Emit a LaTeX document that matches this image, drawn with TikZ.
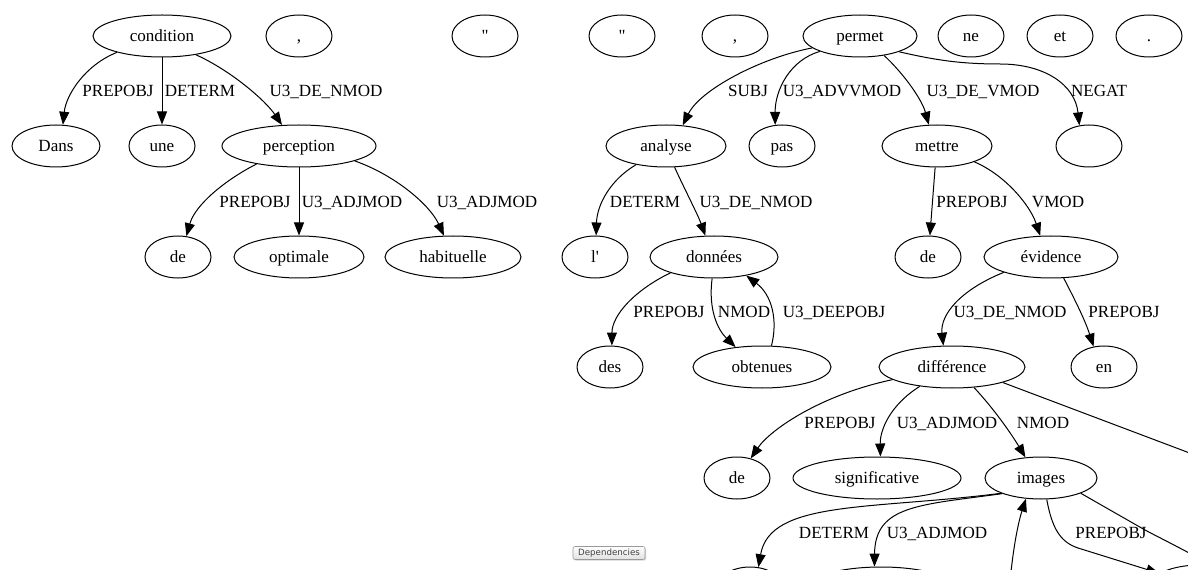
\documentclass[tikz,border=0pt]{standalone}
\usepackage{fontspec}
\setmainfont{Liberation Serif}
\newfontfamily\btnfont{DejaVu Sans}
\usetikzlibrary{arrows.meta,shapes.geometric,shadows}
\begin{document}
\begin{tikzpicture}[x=0.75pt,y=-0.75pt,
  el/.style={ellipse,draw,line width=0.75pt,inner sep=0pt,minimum height=31.5pt,minimum width=#1*0.75pt,font=\fontsize{12.8pt}{15pt}\selectfont,text height=10pt,text depth=1.8pt},
  lbl/.style={inner sep=0pt,font=\fontsize{12.8pt}{15pt}\selectfont,text height=10pt,text depth=1.8pt},
  dep/.style={draw,line width=0.75pt,-{Triangle[length=9.75pt,width=7.5pt]}},
  depline/.style={draw,line width=0.75pt},
  btn/.style={draw=black!40,rounded corners=1.5pt,top color=white,bottom color=black!12,inner sep=0pt,minimum width=54pt,minimum height=9.75pt,font=\btnfont\fontsize{6.5pt}{8pt}\selectfont,text=black!75,drop shadow={shadow xshift=0.8pt,shadow yshift=-0.8pt,opacity=0.35}}]
\useasboundingbox (0,0) rectangle (1188,570);
\fill[white] (0,0) rectangle (1188,570);
\begin{scope}
\clip (0,0) rectangle (1188,570);
% row 1
\node[el=138] (cond) at (162,36) {condition};
\node[el=66] (c1) at (299,36) {,};
\node[el=66] (q1) at (485,36) {\textquotedbl};
\node[el=66] (q2) at (622,36) {\textquotedbl};
\node[el=66] (c2) at (735,36) {,};
\node[el=114] (perm) at (860,36) {permet};
\node[el=66] (ne) at (971,36) {ne};
\node[el=66] (et) at (1060,36) {et};
\node[el=66] (dot) at (1149,36) {.};
% row 2
\node[el=88] (dans) at (56,146) {Dans};
\node[el=66] (une) at (162,146) {une};
\node[el=154] (perc) at (299,146) {perception};
\node[el=120] (anal) at (666,146) {analyse};
\node[el=66] (pas) at (782,146) {pas};
\node[el=110] (mett) at (937,146) {mettre};
\node[el=66] (empty) at (1089,146) {};
% row 3
\node[el=66] (de1) at (178,257) {de};
\node[el=130] (opt) at (299,257) {optimale};
\node[el=136] (hab) at (453,257) {habituelle};
\node[el=66] (l) at (595,257) {l\textquotesingle};
\node[el=128] (don) at (714,257) {données};
\node[el=66] (de2) at (928,257) {de};
\node[el=134] (evid) at (1051,257) {évidence};
% row 4
\node[el=66] (des) at (610,367) {des};
\node[el=138] (obt) at (762,367) {obtenues};
\node[el=146] (diff) at (952,367) {différence};
\node[el=66] (en) at (1104,367) {en};
% row 5
\node[el=66] (de3) at (737,478) {de};
\node[el=168] (sig) at (877,478) {significative};
\node[el=112] (img) at (1041,478) {images};
% row 6 (cut off)
\node[el=66] (nA) at (750,588) {};
\node[el=148] (nB) at (881,588) {};
\node[el=100] (nD) at (1200,586) {};
\coordinate (cC) at (1009,592);
\coordinate (cE) at (1230,575);
\coordinate (cF) at (1240,472);
% edges
\draw[dep] (cond.200) .. controls (85,65) and (66,95) .. (dans.72);
\draw[dep] (cond.south) -- (une.north);
\draw[dep] (cond.331) .. controls (230,70) and (265,100) .. (perc.129);
\draw[dep] (perc.203) .. controls (225,180) and (195,205) .. (de1.68);
\draw[dep] (perc.south) -- (opt.north);
\draw[dep] (perc.345) .. controls (395,175) and (430,205) .. (hab.113);
\draw[dep] (perm.194) .. controls (760,58) and (700,90) .. (anal.51);
\draw[dep] (perm.201) .. controls (790,60) and (775,90) .. (pas.108);
\draw[dep] (perm.321) .. controls (905,75) and (922,100) .. (mett.111);
\draw[dep] (perm.338) .. controls (935,60) and (960,64) .. (1000,64) .. controls (1045,64) and (1075,85) .. (empty.115);
\draw[dep] (anal.212) .. controls (610,180) and (597,205) .. (l.87);
\draw[dep] (anal.292) .. controls (685,190) and (698,215) .. (don.112);
\draw[dep] (mett.265) -- (de2.85);
\draw[dep] (mett.337) .. controls (1005,175) and (1030,205) .. (evid.117);
\draw[dep] (don.200) .. controls (635,290) and (612,315) .. (des.85);
\draw[dep] (don.265) .. controls (708,310) and (718,330) .. (obt.143);
\draw[dep] (obt.66) .. controls (778,320) and (772,295) .. (don.330);
\draw[dep] (evid.198) .. controls (960,290) and (940,315) .. (diff.112);
\draw[dep] (evid.301) .. controls (1075,300) and (1085,320) .. (en.117);
\draw[dep] (diff.192) .. controls (820,395) and (770,430) .. (de3.55);
\draw[dep] (diff.211) .. controls (890,405) and (880,430) .. (sig.81);
\draw[dep] (diff.317) .. controls (995,410) and (1012,435) .. (img.127);
\draw[depline] (diff.343) -- (cF);
\draw[dep] (img.201) .. controls (870,510) and (770,500) .. (nA.68);
\draw[dep] (img.202) .. controls (920,505) and (875,505) .. (nB.107);
\draw[dep] (cC) .. controls (1013,545) and (1019,520) .. (img.234);
\draw[dep] (img.285) .. controls (1052,528) and (1060,542) .. (1078,548) -- (nD);
\draw[depline] (img.339) -- (1145,530) .. controls (1160,538) and (1175,545) .. (cE);
% labels
\node[lbl] (t1) at (118,91) {PREPOBJ};
\node[lbl] (t2) at (200,91) {DETERM};
\node[lbl] (t3) at (326,91) {U3\_DE\_NMOD};
\node[lbl] (t4) at (255,202) {PREPOBJ};
\node[lbl] (t5) at (352,202) {U3\_ADJMOD};
\node[lbl] (t6) at (487,202) {U3\_ADJMOD};
\node[lbl] (t7) at (748,91) {SUBJ};
\node[lbl] (t8) at (842,91) {U3\_ADVVMOD};
\node[lbl] (t9) at (983,91) {U3\_DE\_VMOD};
\node[lbl] (t10) at (1099,91) {NEGAT};
\node[lbl] (t11) at (645,202) {DETERM};
\node[lbl] (t12) at (756,202) {U3\_DE\_NMOD};
\node[lbl] (t13) at (972,202) {PREPOBJ};
\node[lbl] (t14) at (1058,202) {VMOD};
\node[lbl] (t15) at (669,312) {PREPOBJ};
\node[lbl] (t16) at (744,312) {NMOD};
\node[lbl] (t17) at (834,312) {U3\_DEEPOBJ};
\node[lbl] (t18) at (1010,312) {U3\_DE\_NMOD};
\node[lbl] (t19) at (1124,312) {PREPOBJ};
\node[lbl] (t20) at (840,423) {PREPOBJ};
\node[lbl] (t21) at (947,423) {U3\_ADJMOD};
\node[lbl] (t22) at (1043,423) {NMOD};
\node[lbl] (t23) at (834,533) {DETERM};
\node[lbl] (t24) at (937,533) {U3\_ADJMOD};
\node[lbl] (t25) at (1111,533) {PREPOBJ};
\end{scope}
\node[btn] (depbtn) at (609,553) {Dependencies};
\end{tikzpicture}
\end{document}
